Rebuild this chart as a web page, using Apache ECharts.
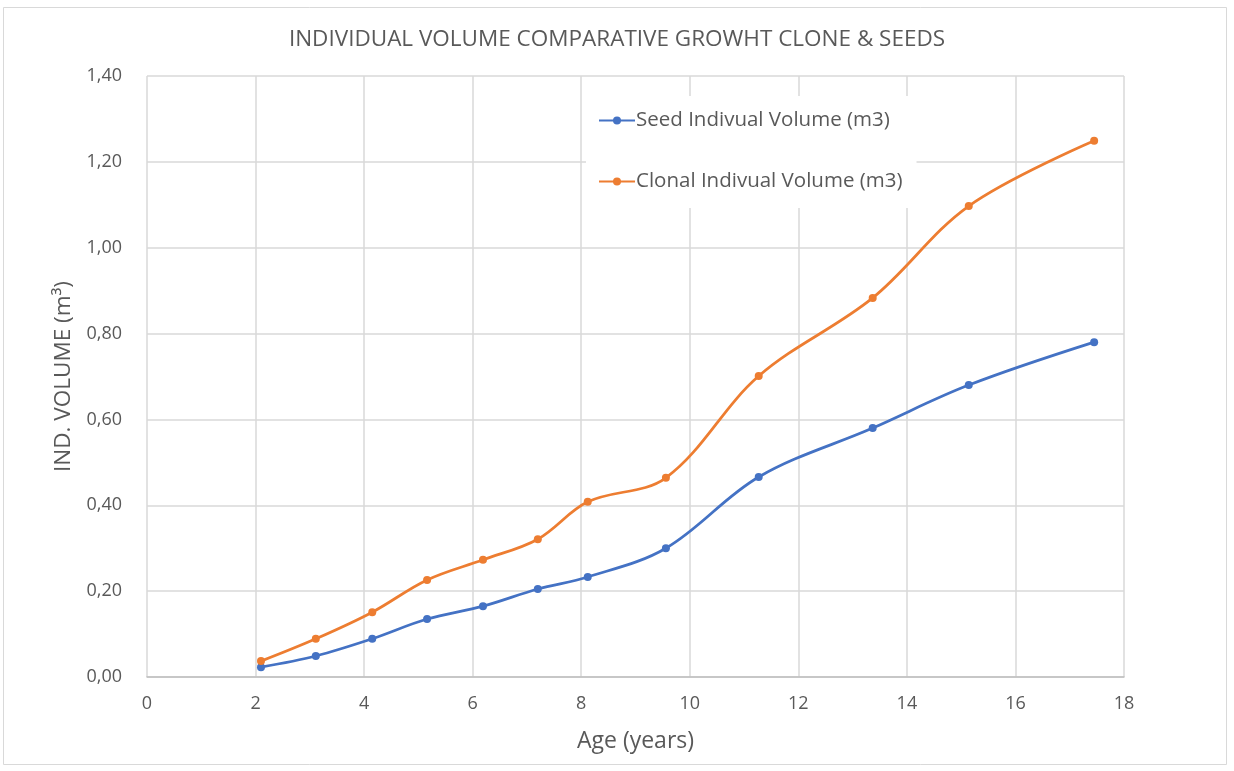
<!DOCTYPE html>
<html>
<head>
<meta charset="utf-8">
<script src="https://cdn.jsdelivr.net/npm/echarts@6/dist/echarts.min.js"></script>
<style>
  html, body { margin: 0; padding: 0; background: #ffffff; }
  #chart { width: 1234px; height: 771px; }
</style>
</head>
<body>
<div id="chart"></div>
<script>
// Age of the stand (years) at each measurement
const seedAges   = [2.10, 3.11, 4.15, 5.16, 6.19, 7.20, 8.12, 9.56, 11.27, 13.37, 15.14, 17.45];
const clonalAges = [2.10, 3.11, 4.15, 5.16, 6.19, 7.20, 8.12, 9.56, 11.27, 13.37, 15.14, 17.45];

// Individual tree volume (m3)
const seedVolume   = [0.023, 0.049, 0.089, 0.135, 0.165, 0.205, 0.233, 0.300, 0.466, 0.580, 0.680, 0.780];
const clonalVolume = [0.037, 0.089, 0.151, 0.226, 0.273, 0.321, 0.408, 0.464, 0.701, 0.883, 1.097, 1.249];

const seriesNames = ['Seed Indivual Volume (m3)', 'Clonal Indivual Volume (m3)'];
const titleText = 'INDIVIDUAL VOLUME COMPARATIVE GROWHT CLONE & SEEDS';
const xAxisName = 'Age (years)';
const yAxisName = 'IND. VOLUME (m³)';

const FONT = '"Open Sans", "Liberation Sans", sans-serif';
const TEXT = '#595959';
const GRID = '#d9d9d9';

const pair = (xs, ys) => xs.map((x, i) => [x, ys[i]]);

const chart = echarts.init(document.getElementById('chart'), null, { renderer: 'canvas' });

chart.setOption({
  backgroundColor: '#ffffff',
  animation: false,
  title: {
    text: titleText,
    left: 'center',
    top: 23,
    textStyle: { fontFamily: FONT, fontSize: 22.5, fontWeight: 'normal', color: TEXT }
  },
  graphic: [{
    type: 'rect',
    shape: { x: 3.5, y: 7.5, width: 1223, height: 757 },
    style: { fill: 'none', stroke: '#d9d9d9', lineWidth: 1 },
    silent: true,
    z: -10
  }],
  legend: {
    orient: 'vertical',
    left: 586,
    top: 96,
    padding: [14, 14, 16, 12],
    backgroundColor: '#ffffff',
    itemGap: 40,
    itemWidth: 36,
    itemHeight: 10,
    textStyle: { fontFamily: FONT, fontSize: 20.5, color: TEXT, padding: [0, 0, 0, -4] },
    data: seriesNames,
    z: 10
  },
  grid: { left: 147, right: 110, top: 76, bottom: 94, containLabel: false },
  xAxis: {
    type: 'value',
    min: 0,
    max: 18,
    interval: 2,
    name: xAxisName,
    nameLocation: 'middle',
    nameGap: 53,
    nameTextStyle: { fontFamily: FONT, fontSize: 23, color: TEXT },
    axisLine: { show: true, lineStyle: { color: '#bfbfbf', width: 1.5 } },
    axisTick: { show: false },
    axisLabel: { fontFamily: FONT, fontSize: 18, color: TEXT, margin: 18 },
    splitLine: { show: true, lineStyle: { color: GRID, width: 1.5 } }
  },
  yAxis: {
    type: 'value',
    min: 0,
    max: 1.4,
    interval: 0.2,
    name: yAxisName,
    nameLocation: 'middle',
    nameGap: 67,
    nameTextStyle: { fontFamily: FONT, fontSize: 22.5, color: TEXT },
    axisLine: { show: false },
    axisTick: { show: false },
    axisLabel: {
      fontFamily: FONT, fontSize: 18, color: TEXT, margin: 25,
      formatter: v => v.toFixed(2).replace('.', ',')
    },
    splitLine: { show: true, lineStyle: { color: GRID, width: 1.5 } }
  },
  series: [
    {
      name: seriesNames[0],
      type: 'line',
      data: pair(seedAges, seedVolume),
      smooth: 0.35,
      symbol: 'circle',
      symbolSize: 8,
      itemStyle: { color: '#4472c4' },
      lineStyle: { color: '#4472c4', width: 2.75 },
      z: 3
    },
    {
      name: seriesNames[1],
      type: 'line',
      data: pair(clonalAges, clonalVolume),
      smooth: 0.35,
      symbol: 'circle',
      symbolSize: 8,
      itemStyle: { color: '#ed7d31' },
      lineStyle: { color: '#ed7d31', width: 2.75 },
      z: 3
    }
  ]
});
</script>
</body>
</html>
